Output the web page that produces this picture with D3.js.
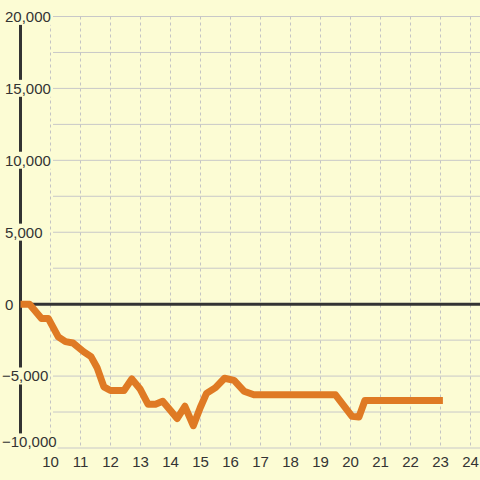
<!DOCTYPE html>
<html>
<head>
<meta charset="utf-8">
<script src="https://cdn.jsdelivr.net/npm/d3@7"></script>
<style>
  body { margin: 0; background: #fcfcd4; }
  svg { display: block; }
  text { font-family: "Liberation Sans", Arial, sans-serif; font-size: 15px; fill: #333; }
</style>
</head>
<body>
<svg class="chart" width="480" height="480"></svg>
<script>
// values
var days = [9.0, 9.3, 9.7, 9.93, 10.26, 10.5, 10.75, 11.1, 11.35, 11.55, 11.78, 12.0, 12.45,
  12.71, 12.98, 13.25, 13.5, 13.74, 14.0, 14.22, 14.48, 14.76, 14.99, 15.2, 15.5, 15.8,
  16.12, 16.45, 16.78, 19.5, 20.05, 20.28, 20.48, 20.7, 23.08];
var balance = [0, 0, -1000, -1000, -2270, -2600, -2700, -3300, -3650, -4400, -5750, -6000, -6000,
  -5200, -5880, -6950, -6950, -6750, -7400, -7950, -7100, -8450, -7200, -6200, -5800, -5150,
  -5300, -6050, -6300, -6300, -7800, -7850, -6700, -6700, -6700];
var yTicks = [-10000, -5000, 0, 5000, 10000, 15000, 20000];
var yGrid = [-10000, -7500, -5000, -2500, 0, 2500, 5000, 7500, 10000, 12500, 15000, 17500, 20000];
var xTicks = [10, 11, 12, 13, 14, 15, 16, 17, 18, 19, 20, 21, 22, 23, 24];

var svg = d3.select(".chart");
var bg = "#fcfcd4";

var x = d3.scaleLinear().domain([9, 24]).range([20.5, 470.5]);
var y = d3.scaleLinear().domain([-10000, 20000]).range([448, 16.5]);

svg.append('rect').attr('width', 480).attr('height', 480).attr('fill', bg);

// horizontal grid
svg.append('g').selectAll('line').data(yGrid)
  .enter().append('line')
    .attr('x1', 53).attr('x2', 480)
    .attr('y1', d => y(d)).attr('y2', d => y(d))
    .attr('stroke', '#c8c8c8').attr('stroke-width', 1);

// vertical dashed grid
svg.append('g').selectAll('line').data(xTicks)
  .enter().append('line')
    .attr('x1', d => x(d)).attr('x2', d => x(d))
    .attr('y1', y(20000)).attr('y2', y(-10000))
    .attr('stroke', '#c4c4c4').attr('stroke-width', 1)
    .attr('stroke-dasharray', '3,3');

// axis lines
svg.append('line')
  .attr('x1', x(9)).attr('x2', x(9))
  .attr('y1', y(20000)).attr('y2', y(-10000))
  .attr('stroke', '#333').attr('stroke-width', 3);
svg.append('line')
  .attr('x1', x(9)).attr('x2', 480)
  .attr('y1', y(0)).attr('y2', y(0))
  .attr('stroke', '#333').attr('stroke-width', 3);

// the series
var line = d3.line()
  .x((d, i) => x(days[i]))
  .y(d => y(d));

svg.append('path')
  .attr('d', line(balance))
  .attr('fill', 'none')
  .attr('stroke', '#df7a24')
  .attr('stroke-width', 7)
  .attr('stroke-linejoin', 'round');

// y labels with background behind them (bottom one nudged up)
var yl = svg.append('g').selectAll('g').data(yTicks)
  .enter().append('g');
yl.append('text')
  .attr('x', d => d < 0 ? 2 : 5)
  .attr('y', d => Math.min(y(d), 442))
  .attr('dy', '0.36em')
  .text(d => d3.format(',')(d));
yl.each(function () {
  var g = d3.select(this);
  var b = g.select('text').node().getBBox();
  g.insert('rect', 'text')
    .attr('x', b.x - 1).attr('y', b.y)
    .attr('width', b.width + 2).attr('height', b.height)
    .attr('fill', bg);
});

// x labels
svg.append('g').selectAll('text').data(xTicks)
  .enter().append('text')
    .attr('x', d => x(d))
    .attr('y', 467)
    .attr('text-anchor', 'middle')
    .text(d => d);
</script>
</body>
</html>
